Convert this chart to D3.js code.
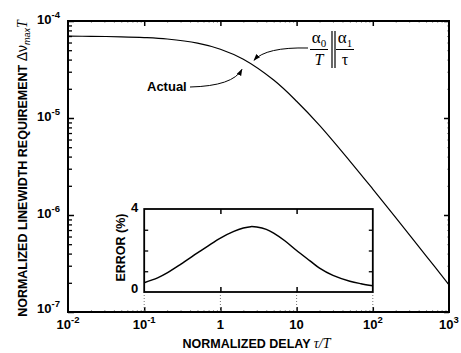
<!DOCTYPE html>
<html><head><meta charset="utf-8">
<script src="https://cdn.jsdelivr.net/npm/d3@7"></script>
<style>
html,body{margin:0;padding:0;background:#fff;}
svg{display:block;}
</style></head>
<body>
<svg id="chart" width="461" height="353" font-family="'Liberation Sans',Arial,Helvetica,sans-serif" font-weight="bold"></svg>
<script>
// ---- data ----
const tau = [0.01, 0.02, 0.05, 0.1, 0.2, 0.5, 1, 2, 5, 10, 20, 50, 100, 200, 500, 1000];
const linewidth = [6.97e-5, 6.95e-5, 6.87e-5, 6.75e-5, 6.52e-5, 5.91e-5, 5.12e-5, 4.03e-5,
                   2.46e-5, 1.49e-5, 8.4e-6, 3.6e-6, 1.85e-6, 9.4e-7, 3.8e-7, 1.9e-7];
const errTau = [0.1, 0.15, 0.2, 0.3, 0.5, 0.7, 1, 1.5, 2, 2.5, 3, 4, 5, 7, 10, 15, 20, 30, 50, 70, 100];
const errPct = [0.45, 0.68, 0.92, 1.33, 1.88, 2.24, 2.6, 2.92, 3.08, 3.15, 3.13, 3.02, 2.84, 2.47, 2.0,
                1.5, 1.15, 0.8, 0.52, 0.4, 0.3];
const xTicks = [0.01, 0.1, 1, 10, 100, 1000];
const xTickLabels = [["10","-2"],["10","-1"],["1",""],["10",""],["10","2"],["10","3"]];
const yTicks = [1e-4, 1e-5, 1e-6, 1e-7];
const yTickLabels = [["10","-4"],["10","-5"],["10","-6"],["10","-7"]];
const insetYTicks = [0, 1, 2, 3, 4];
const insetYLabels = ["0", "", "", "", "4"];

const svg = d3.select("#chart");
const L = 68, R = 449, T = 21, B = 312;
const x = d3.scaleLog().domain([0.01, 1000]).range([L, R]);
const y = d3.scaleLog().domain([1e-7, 1e-4]).range([B, T]);

// minor ticks
const minorX = [], minorY = [];
for (let e = -2; e < 3; e++) for (let m = 2; m < 10; m++) minorX.push(m * Math.pow(10, e));
for (let e = -7; e < -4; e++) for (let m = 2; m < 10; m++) minorY.push(m * Math.pow(10, e));

function ticks(g, color, w) {
  g.select(".domain").remove();
  g.selectAll("line").attr("stroke", color).attr("stroke-width", w);
}
// left axis major + minor
svg.append("g").attr("transform", `translate(${L},0)`)
  .call(d3.axisRight(y).tickValues(minorY).tickSize(4).tickFormat(""))
  .call(ticks, "#000", 1.3);
svg.append("g").attr("transform", `translate(${L},0)`)
  .call(d3.axisRight(y).tickValues(yTicks).tickSize(6).tickFormat(""))
  .call(ticks, "#000", 1.5);
// right axis ticks
svg.append("g").attr("transform", `translate(${R},0)`)
  .call(d3.axisLeft(y).tickValues(yTicks).tickSize(5).tickFormat(""))
  .call(ticks, "#000", 1.5);
svg.append("g").attr("transform", `translate(${R},0)`)
  .call(d3.axisLeft(y).tickValues(minorY).tickSize(2).tickFormat(""))
  .call(ticks, "#999", 1);
// bottom / top ticks
svg.append("g").attr("transform", `translate(0,${B})`)
  .call(d3.axisTop(x).tickValues(xTicks.slice(1, 5)).tickSize(5).tickFormat(""))
  .call(ticks, "#000", 1.5);
svg.append("g").attr("transform", `translate(0,${B})`)
  .call(d3.axisTop(x).tickValues(minorX).tickSize(2).tickFormat(""))
  .call(ticks, "#999", 1);
svg.append("g").attr("transform", `translate(0,${T})`)
  .call(d3.axisBottom(x).tickValues(xTicks.slice(1, 5)).tickSize(5).tickFormat(""))
  .call(ticks, "#000", 1.5);
svg.append("g").attr("transform", `translate(0,${T})`)
  .call(d3.axisBottom(x).tickValues(minorX).tickSize(2).tickFormat(""))
  .call(ticks, "#aaa", 1);

// frame
svg.append("rect").attr("x", L).attr("y", T).attr("width", R - L).attr("height", B - T)
  .attr("fill", "none").attr("stroke", "#000").attr("stroke-width", 2);

// y tick labels
yTicks.forEach((v, i) => {
  const t = svg.append("text").attr("x", L - 8).attr("y", y(v) + (i === 3 ? 1 : 3))
    .attr("text-anchor", "end").attr("font-size", 13);
  t.append("tspan").text(yTickLabels[i][0]);
  t.append("tspan").attr("dy", -6).attr("font-size", 9.5).text(yTickLabels[i][1]);
});
// x tick labels
xTicks.forEach((v, i) => {
  const t = svg.append("text").attr("x", x(v)).attr("y", B + 17)
    .attr("text-anchor", "middle").attr("font-size", 13);
  t.append("tspan").text(xTickLabels[i][0]);
  if (xTickLabels[i][1]) t.append("tspan").attr("dy", -6).attr("font-size", 9.5).text(xTickLabels[i][1]);
});

const serif = "'Liberation Serif','Times New Roman',serif";
// axis titles
const xt = svg.append("text").attr("x", (L + R) / 2 - 2).attr("y", 348)
  .attr("text-anchor", "middle").attr("font-size", 12.5);
xt.append("tspan").text("NORMALIZED DELAY ");
xt.append("tspan").attr("font-family", serif)
  .attr("font-style", "italic").attr("font-weight", "normal").attr("font-size", 14).text("τ/T");

const yt = svg.append("text").attr("transform", `translate(27,${(T + B) / 2 + 2}) rotate(-90)`)
  .attr("text-anchor", "middle").attr("font-size", 12.5);
yt.append("tspan").text("NORMALIZED LINEWIDTH REQUIREMENT ");
yt.append("tspan").attr("font-weight", "normal").attr("font-size", 14).text("Δν");
yt.append("tspan").attr("font-weight", "normal").attr("font-style", "italic").attr("font-size", 9)
  .attr("dy", 3).text("max");
yt.append("tspan").attr("font-family", serif)
  .attr("font-style", "italic").attr("font-weight", "normal").attr("font-size", 14).attr("dy", -3).text("T");

// main curve
const line = d3.line().x((d, i) => x(tau[i])).y((d, i) => y(linewidth[i])).curve(d3.curveCatmullRom.alpha(0.5));
svg.append("path").datum(linewidth).attr("d", line).attr("fill", "none")
  .attr("stroke", "#000").attr("stroke-width", 1.2);

// ---- inset ----
const xi = x; // same log scale, domain 0.1..100 used
const IL = xi(0.1), IR = xi(100), IT = 209, IB = 292;
const yi = d3.scaleLinear().domain([0, 4]).range([IB, IT]);

// dotted connectors
svg.append("g").selectAll("line").data(xTicks.slice(1, 5)).join("line")
  .attr("x1", d => x(d)).attr("x2", d => x(d)).attr("y1", IB).attr("y2", B)
  .attr("stroke", "#777").attr("stroke-width", 1).attr("stroke-dasharray", "1,2");

svg.append("rect").attr("x", IL).attr("y", IT).attr("width", IR - IL).attr("height", IB - IT)
  .attr("fill", "#fff");
svg.append("g").attr("transform", `translate(${IL},0)`)
  .call(d3.axisRight(yi).tickValues(insetYTicks.slice(1, 4)).tickSize(4).tickFormat(""))
  .call(ticks, "#000", 1.3);
svg.append("g").attr("transform", `translate(${IR},0)`)
  .call(d3.axisLeft(yi).tickValues(insetYTicks.slice(1, 4)).tickSize(4).tickFormat(""))
  .call(ticks, "#000", 1.3);
svg.append("g").attr("transform", `translate(0,${IB})`)
  .call(d3.axisTop(xi).tickValues([1, 10]).tickSize(5).tickFormat(""))
  .call(ticks, "#000", 1.5);
svg.append("g").attr("transform", `translate(0,${IT})`)
  .call(d3.axisBottom(xi).tickValues([1, 10]).tickSize(5).tickFormat(""))
  .call(ticks, "#000", 1.5);
svg.append("rect").attr("x", IL).attr("y", IT).attr("width", IR - IL).attr("height", IB - IT)
  .attr("fill", "none").attr("stroke", "#000").attr("stroke-width", 1.8);

const eline = d3.line().x((d, i) => xi(errTau[i])).y((d, i) => yi(errPct[i])).curve(d3.curveCatmullRom.alpha(0.5));
svg.append("path").datum(errPct).attr("d", eline).attr("fill", "none")
  .attr("stroke", "#000").attr("stroke-width", 1.5);

insetYTicks.forEach((v, i) => {
  if (!insetYLabels[i]) return;
  svg.append("text").attr("x", IL - 6).attr("y", yi(v) + (v === 0 ? 1 : 3)).attr("text-anchor", "end")
    .attr("font-size", 13).text(insetYLabels[i]);
});
svg.append("text").attr("transform", `translate(125,${(IT + IB) / 2 - 3}) rotate(-90)`)
  .attr("text-anchor", "middle").attr("font-size", 12.5).text("ERROR (%)");

// ---- annotations ----
const defs = svg.append("defs");
defs.append("marker").attr("id", "ah").attr("viewBox", "0 0 10 10").attr("refX", 9).attr("refY", 5)
  .attr("markerWidth", 7).attr("markerHeight", 7).attr("orient", "auto-start-reverse")
  .append("path").attr("d", "M0,1.5 L10,5 L0,8.5 Z").attr("fill", "#000");

const cx = x(2.3), cy = y(3.75e-5);
svg.append("text").attr("x", 147).attr("y", 91).attr("font-size", 13).text("Actual");
svg.append("path").attr("d", `M190,87 Q${cx - 15},86 ${cx - 6},${cy + 7}`)
  .attr("fill", "none").attr("stroke", "#000").attr("stroke-width", 1).attr("marker-end", "url(#ah)");
svg.append("path").attr("d", `M308,48 Q${cx + 18},47 ${cx + 6},${cy - 2}`)
  .attr("fill", "none").attr("stroke", "#000").attr("stroke-width", 1).attr("marker-end", "url(#ah)");

// formula  α0/T || α1/τ
const f = svg.append("g").attr("font-family", serif).attr("font-weight", "normal");
function frac(cxp, num, sub, den) {
  const t = f.append("text").attr("x", cxp).attr("y", 43).attr("text-anchor", "middle")
    .attr("font-size", 17);
  t.append("tspan").text(num);
  t.append("tspan").attr("font-size", 11).attr("dy", 4).text(sub);
  f.append("line").attr("x1", cxp - 9).attr("x2", cxp + 9).attr("y1", 49.5).attr("y2", 49.5)
    .attr("stroke", "#000").attr("stroke-width", 1);
  f.append("text").attr("x", cxp).attr("y", 65).attr("text-anchor", "middle")
    .attr("font-style", den === "T" ? "italic" : "normal").attr("font-size", 16).text(den);
}
frac(319, "α", "0", "T");
frac(345, "α", "1", "τ");
f.append("line").attr("x1", 332).attr("x2", 332).attr("y1", 31).attr("y2", 68).attr("stroke", "#000").attr("stroke-width", 1.2);
f.append("line").attr("x1", 335).attr("x2", 335).attr("y1", 31).attr("y2", 68).attr("stroke", "#000").attr("stroke-width", 1.2);
</script>
</body></html>
